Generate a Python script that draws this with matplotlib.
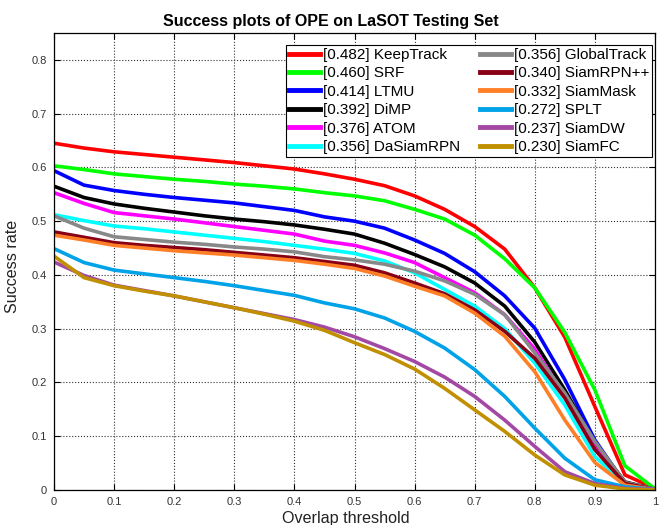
import matplotlib
matplotlib.use("Agg")
import matplotlib.pyplot as plt
import numpy as np

plt.rcParams['font.family'] = ['Liberation Sans', 'DejaVu Sans']

thresholds = np.round(np.arange(0, 1.0001, 0.05), 2)

names = ["KeepTrack", "SRF", "LTMU", "DiMP", "ATOM", "DaSiamRPN",
         "GlobalTrack", "SiamRPN++", "SiamMask", "SPLT", "SiamDW", "SiamFC"]
auc = [0.482, 0.460, 0.414, 0.392, 0.376, 0.356, 0.356, 0.340, 0.332, 0.272, 0.237, 0.230]

keeptrack = [0.645, 0.636, 0.629, 0.624, 0.619, 0.614, 0.609, 0.603, 0.597, 0.588, 0.578,
             0.566, 0.547, 0.522, 0.490, 0.448, 0.376, 0.284, 0.155, 0.028, 0.003]
srf = [0.603, 0.596, 0.588, 0.583, 0.578, 0.574, 0.569, 0.565, 0.560, 0.553, 0.547,
       0.538, 0.522, 0.504, 0.474, 0.430, 0.376, 0.293, 0.186, 0.045, 0.002]
ltmu = [0.594, 0.567, 0.557, 0.550, 0.544, 0.539, 0.534, 0.527, 0.520, 0.508, 0.500,
        0.487, 0.465, 0.440, 0.406, 0.361, 0.301, 0.205, 0.093, 0.012, 0.001]
dimp = [0.565, 0.544, 0.532, 0.524, 0.517, 0.510, 0.504, 0.499, 0.493, 0.485, 0.476,
        0.459, 0.438, 0.415, 0.385, 0.342, 0.275, 0.186, 0.087, 0.015, 0.001]
atom = [0.553, 0.533, 0.516, 0.510, 0.504, 0.497, 0.490, 0.483, 0.476, 0.463, 0.455,
        0.441, 0.423, 0.395, 0.367, 0.326, 0.262, 0.175, 0.078, 0.013, 0.001]
dasiamrpn = [0.512, 0.501, 0.491, 0.486, 0.480, 0.474, 0.468, 0.462, 0.455, 0.448, 0.440,
             0.426, 0.404, 0.373, 0.342, 0.300, 0.236, 0.158, 0.062, 0.012, 0.001]
globaltrack = [0.510, 0.487, 0.471, 0.466, 0.461, 0.457, 0.452, 0.448, 0.443, 0.434, 0.428,
               0.420, 0.407, 0.389, 0.364, 0.326, 0.255, 0.180, 0.090, 0.014, 0.001]
siamrpnpp = [0.480, 0.470, 0.460, 0.455, 0.451, 0.447, 0.442, 0.437, 0.432, 0.425, 0.418,
             0.404, 0.385, 0.365, 0.335, 0.295, 0.245, 0.171, 0.075, 0.012, 0.001]
siammask = [0.474, 0.465, 0.455, 0.450, 0.445, 0.441, 0.437, 0.432, 0.427, 0.420, 0.412,
            0.398, 0.379, 0.361, 0.329, 0.286, 0.220, 0.130, 0.051, 0.009, 0.001]
splt = [0.449, 0.423, 0.409, 0.402, 0.395, 0.388, 0.380, 0.371, 0.362, 0.348, 0.337,
        0.320, 0.295, 0.264, 0.224, 0.174, 0.115, 0.059, 0.019, 0.006, 0.001]
siamdw = [0.424, 0.399, 0.381, 0.371, 0.361, 0.350, 0.339, 0.328, 0.317, 0.303, 0.285,
          0.263, 0.239, 0.210, 0.174, 0.130, 0.081, 0.034, 0.012, 0.003, 0.001]
siamfc = [0.435, 0.395, 0.380, 0.370, 0.361, 0.350, 0.339, 0.327, 0.314, 0.297, 0.274,
          0.252, 0.225, 0.189, 0.149, 0.109, 0.065, 0.028, 0.009, 0.002, 0.000]

series = [keeptrack, srf, ltmu, dimp, atom, dasiamrpn, globaltrack,
          siamrpnpp, siammask, splt, siamdw, siamfc]
colors = ["#FF0000", "#00FF00", "#0000FF", "#000000", "#FF00FF", "#00FFFF",
          "#888888", "#880015", "#FF7F27", "#00A2E8", "#A349A4", "#C09000"]

fig = plt.figure(figsize=(6.6, 5.25), dpi=100)
ax = fig.add_axes([54/660, 35/525, 601/660, 457/525])

for name, a, ys, c in zip(names, auc, series, colors):
    ax.plot(thresholds, ys, color=c, linewidth=2.6, label=f"[{a:.3f}] {name}",
            solid_joinstyle='miter')

ax.set_xlim(0, 1)
ax.set_ylim(0, 0.85)
ax.set_xticks(np.arange(0, 1.01, 0.1))
ax.set_xticklabels(["0", "0.1", "0.2", "0.3", "0.4", "0.5", "0.6", "0.7", "0.8", "0.9", "1"])
ax.set_yticks(np.arange(0, 0.81, 0.1))
ax.set_yticklabels(["0", "0.1", "0.2", "0.3", "0.4", "0.5", "0.6", "0.7", "0.8"])
ax.tick_params(direction='in', top=True, right=True, length=4, width=0.8,
               labelsize=8, labelcolor='#333333', pad=5)
ax.grid(True, linestyle=':', color='#333333', linewidth=0.8)
for s in ax.spines.values():
    s.set_linewidth(0.9)

ax.set_xlabel("Overlap threshold", fontsize=11.6, color='#222222', labelpad=3)
ax.xaxis.set_label_coords(0.485, -0.045, transform=ax.transAxes)
ax.xaxis.label.set_verticalalignment('top')
ax.set_ylabel("Success rate", fontsize=11.6, color='#222222', labelpad=1)
ax.yaxis.set_label_coords(-0.056, 0.489, transform=ax.transAxes)
ax.set_title("Success plots of OPE on LaSOT Testing Set", fontsize=11.5,
             fontweight='bold', pad=5, x=0.461)

leg = ax.legend(ncol=2, loc='upper right', bbox_to_anchor=(0.995, 0.974),
                fontsize=11, frameon=True, fancybox=False, framealpha=1,
                edgecolor='black', handlelength=2.0, handletextpad=0.2,
                columnspacing=1.3, labelspacing=0.29, borderpad=0.2,
                borderaxespad=0.0)
leg.get_frame().set_linewidth(0.8)
for line in leg.get_lines():
    line.set_linewidth(3.5)

fig.savefig("out.png", dpi=100)
